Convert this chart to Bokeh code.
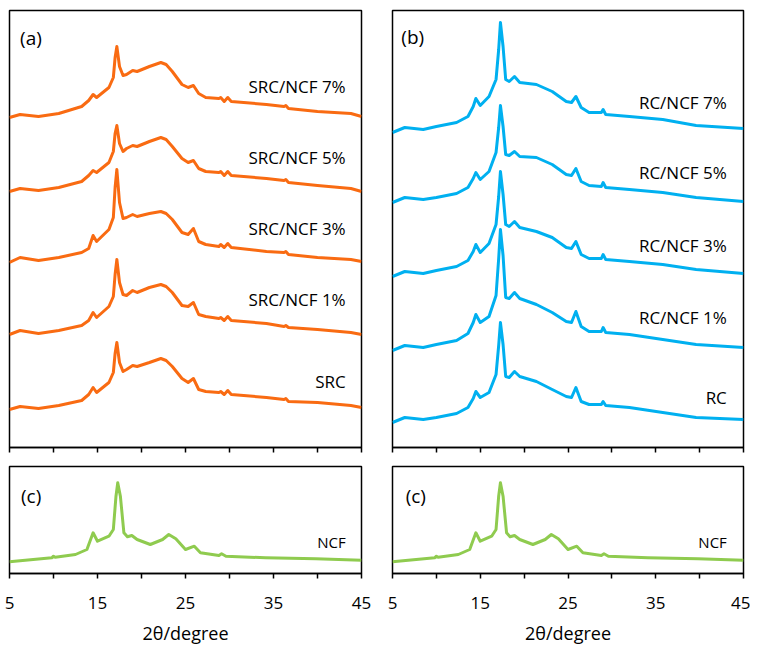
import numpy as np
from bokeh.plotting import figure
from bokeh.models import Range1d, FixedTicker
from bokeh.layouts import column, row
from bokeh.core.properties import value
from bokeh.embed import file_html
from bokeh.resources import INLINE

# ---------------- data (2theta in degrees, intensity in arbitrary units) ----------------
x_src = [5.0, 6.2, 8.3, 10.6, 13.2, 14.0, 14.5, 14.9, 16.3, 16.8, 17.0, 17.2, 17.5, 17.9,
         18.3, 19.0, 19.5, 20.9, 22.2, 22.8, 23.5, 24.6, 25.3, 25.9, 26.5, 27.3, 28.8, 29.0,
         29.4, 29.8, 30.2, 34.2, 36.2, 36.4, 36.7, 40.0, 43.8, 45.0]
src_7 = [0, 3, 1, 4, 11, 17, 23, 20, 30, 40, 60, 71, 51, 42, 43, 47, 46, 51, 55, 53, 46, 33, 30,
         32, 24, 20, 19, 20, 16, 20, 16, 13, 11, 12, 9, 6, 4, 1]
src_5 = [0, 3, 1, 4, 10, 16, 21, 19, 29, 40, 58, 66, 48, 40, 43, 46, 45, 50, 54, 52, 45, 33, 29,
         31, 23, 20, 19, 20, 16, 20, 16, 13, 11, 12, 9, 6, 3, 0]
src_3 = [0, 5, 2, 5, 10, 14, 27, 21, 33, 45, 75, 93, 60, 44, 45, 48, 46, 49, 51, 49, 43, 30, 28,
         34, 21, 18, 16, 18, 15, 19, 15, 11, 10, 11, 8, 5, 3, 1]
src_1 = [0, 4, 1, 4, 9, 14, 22, 17, 28, 38, 60, 75, 52, 40, 39, 44, 42, 47, 50, 48, 42, 29, 28,
         32, 20, 18, 16, 17, 14, 18, 14, 11, 8, 9, 7, 5, 2, 0]
src_0 = [0, 3, 1, 4, 9, 15, 22, 17, 27, 37, 56, 67, 47, 38, 40, 44, 43, 47, 51, 49, 43, 31, 27,
         31, 20, 18, 17, 18, 15, 19, 15, 12, 10, 11, 8, 7, 4, 2]
src_series = [src_7, src_5, src_3, src_1, src_0]
src_offsets = [330, 256, 185, 113, 38]
src_labels = ["SRC/NCF 7%", "SRC/NCF 5%", "SRC/NCF 3%", "SRC/NCF 1%", "SRC"]
src_label_y = [361, 290, 219, 148, 66]

x_rc = [5.0, 6.4, 8.5, 10.0, 12.3, 13.6, 14.2, 14.5, 15.0, 16.0, 16.8, 17.1, 17.3, 17.6, 17.9,
        18.3, 18.9, 19.5, 21.4, 23.2, 24.8, 25.4, 25.9, 26.5, 27.4, 28.8, 29.0, 29.3, 32.0, 35.8,
        39.6, 45.0]
rc_7 = [0, 5, 3, 6, 10, 16, 26, 34, 27, 36, 53, 83, 110, 86, 53, 51, 56, 50, 48, 41, 31, 30, 36,
        25, 20, 20, 23, 18, 16, 13, 7, 4]
rc_5 = [0, 5, 3, 5, 9, 15, 24, 30, 23, 31, 50, 75, 97, 76, 48, 47, 51, 46, 45, 38, 28, 27, 34,
        21, 17, 16, 20, 15, 13, 10, 5, 1]
rc_3 = [0, 5, 3, 6, 10, 16, 25, 32, 24, 33, 52, 80, 105, 82, 52, 50, 55, 49, 45, 39, 29, 28, 35,
        22, 18, 18, 22, 17, 15, 12, 7, 3]
rc_1 = [0, 5, 3, 6, 10, 17, 28, 36, 28, 34, 55, 92, 121, 95, 53, 52, 58, 52, 46, 38, 29, 28, 39,
        24, 19, 19, 23, 18, 16, 11, 6, 3]
rc_0 = [0, 5, 3, 5, 9, 15, 24, 31, 25, 30, 48, 77, 100, 78, 46, 45, 51, 46, 41, 33, 26, 25, 35,
        21, 18, 18, 21, 17, 15, 10, 5, 3]
rc_series = [rc_7, rc_5, rc_3, rc_1, rc_0]
rc_offsets = [315, 245, 171, 97, 25]
rc_labels = ["RC/NCF 7%", "RC/NCF 5%", "RC/NCF 3%", "RC/NCF 1%", "RC"]
rc_label_y = [345, 275, 202, 130, 50]

x_ncf = [5.0, 9.8, 10.0, 10.2, 12.5, 13.8, 14.5, 15.0, 16.3, 16.8, 17.1, 17.3, 17.6, 18.0, 18.4,
         18.9, 19.5, 21.0, 22.4, 23.1, 23.9, 25.0, 26.0, 26.7, 28.8, 29.1, 29.6, 34.1, 39.8, 45.0]
ncf = [0, 4, 5.6, 4.5, 7.3, 12.3, 29, 20.6, 25.6, 32.3, 65.6, 79, 65.6, 29, 25, 26.3, 22.3, 17.3,
       22.3, 27.3, 23, 12.3, 15.6, 9, 6.3, 8, 5.6, 4, 3, 1.6]
ncf_offset = 11.7
ncf_label = "NCF"
ncf_label_y = 32

panel_tags = ["(a)", "(b)", "(c)", "(c)"]
major_ticks = [5, 15, 25, 35, 45]
minor_ticks = [10, 20, 30, 40]
all_ticks = [5, 10, 15, 20, 25, 30, 35, 40, 45]

ORANGE = "#F96B12"
BLUE = "#00B0F0"
GREEN = "#8FCB4F"
FONT = "Open Sans"


def make_fig(frame_w, frame_h, ymax, left, right, top, bottom, show_labels):
    p = figure(frame_width=frame_w, frame_height=frame_h, output_backend="svg",
               toolbar_location=None, x_range=Range1d(5, 45), y_range=Range1d(0, ymax),
               min_border_left=left, min_border_right=right, min_border_top=top,
               min_border_bottom=bottom)
    p.yaxis.visible = False
    p.xgrid.visible = False
    p.ygrid.visible = False
    p.outline_line_color = "black"
    p.outline_line_width = 1.5
    p.outline_line_alpha = 1
    p.background_fill_color = "white"
    p.border_fill_color = "white"
    ax = p.xaxis[0]
    ax.axis_line_color = "black"
    ax.axis_line_width = 1.5
    ax.major_tick_line_color = "black"
    ax.minor_tick_line_color = "black"
    ax.major_tick_line_width = 1.5
    ax.minor_tick_line_width = 1.5
    ax.major_tick_in = 0
    ax.major_tick_out = 5
    ax.minor_tick_in = 0
    ax.minor_tick_out = 5
    if show_labels:
        ax.ticker = FixedTicker(ticks=major_ticks, minor_ticks=minor_ticks)
        ax.major_label_text_font = FONT
        ax.major_label_text_font_size = "17px"
        ax.major_label_text_color = "black"
        ax.major_label_standoff = 18
        ax.axis_label = "2θ/degree"
        ax.axis_label_text_font = FONT
        ax.axis_label_text_font_size = "18px"
        ax.axis_label_text_font_style = "normal"
        ax.axis_label_text_color = "black"
        ax.axis_label_standoff = 9
    else:
        # ticks only, no labels: every tick drawn as a minor tick
        ax.ticker = FixedTicker(ticks=[], minor_ticks=all_ticks)
        ax.major_label_standoff = 0
    return p


def tag(p, x, y, t, size="19px"):
    p.text(x=[x], y=[y], text=[t], text_font=value(FONT), text_font_size=value(size),
           text_align="left", text_baseline="middle", text_color="black")


# (a)
pa = make_fig(352, 437, 437, 9, 26, 10, 10, False)
for s, off in zip(src_series, src_offsets):
    pa.line(x_src, np.array(s) + off, line_color=ORANGE, line_width=3, line_join="round")
pa.text(x=[43.2] * len(src_labels), y=src_label_y, text=src_labels, text_font=value(FONT),
        text_font_size=value("17px"), text_align="right", text_baseline="middle",
        text_color="black")
tag(pa, 6.2, 410, panel_tags[0])

# (b)
pb = make_fig(351, 437, 437, 5, 7, 10, 10, False)
for s, off in zip(rc_series, rc_offsets):
    pb.line(x_rc, np.array(s) + off, line_color=BLUE, line_width=3, line_join="round")
pb.text(x=[43.1] * len(rc_labels), y=rc_label_y, text=rc_labels, text_font=value(FONT),
        text_font_size=value("17px"), text_align="right", text_baseline="middle",
        text_color="black")
tag(pb, 6.0, 411, panel_tags[1])

# (c) left and right
pc1 = make_fig(352, 107, 107, 9, 26, 9, 0, True)
pc2 = make_fig(351, 107, 107, 5, 7, 9, 0, True)
for p, lx, tx in ((pc1, 43.2, 6.3), (pc2, 43.1, 6.5)):
    p.line(x_ncf, np.array(ncf) + ncf_offset, line_color=GREEN, line_width=3, line_join="round")
    p.text(x=[lx], y=[ncf_label_y], text=[ncf_label], text_font=value(FONT),
           text_font_size=value("15px"), text_align="right", text_baseline="middle",
           text_color="black")
    tag(p, tx, 78, panel_tags[2])

layout = column(row(pa, pb), row(pc1, pc2))
open("out.html", "w").write(file_html(layout, INLINE))
